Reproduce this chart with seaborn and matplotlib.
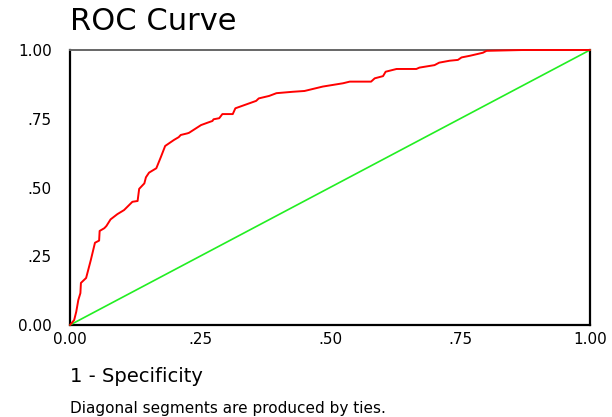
import matplotlib
matplotlib.use("Agg")
import matplotlib.pyplot as plt
import seaborn as sns
import pandas as pd

# ROC curve points
fpr = [0.000, 0.008, 0.012, 0.016, 0.020, 0.021, 0.031, 0.040, 0.048, 0.056,
       0.057, 0.066, 0.070, 0.078, 0.091, 0.104, 0.120, 0.130, 0.133, 0.143,
       0.146, 0.152, 0.166, 0.175, 0.183, 0.200, 0.209, 0.213, 0.226, 0.229,
       0.252, 0.265, 0.274, 0.276, 0.287, 0.293, 0.313, 0.318, 0.358, 0.363,
       0.383, 0.397, 0.428, 0.451, 0.486, 0.525, 0.538, 0.579, 0.586, 0.602,
       0.607, 0.628, 0.666, 0.672, 0.701, 0.710, 0.730, 0.746, 0.753, 0.769,
       0.794, 0.801, 0.871, 1.000]
tpr = [0.000, 0.018, 0.048, 0.091, 0.116, 0.153, 0.171, 0.236, 0.299, 0.307,
       0.342, 0.352, 0.360, 0.384, 0.403, 0.418, 0.448, 0.451, 0.495, 0.515,
       0.537, 0.554, 0.570, 0.612, 0.651, 0.673, 0.683, 0.691, 0.697, 0.699,
       0.727, 0.736, 0.742, 0.748, 0.752, 0.767, 0.767, 0.788, 0.815, 0.824,
       0.833, 0.843, 0.848, 0.851, 0.867, 0.879, 0.885, 0.885, 0.897, 0.905,
       0.921, 0.931, 0.931, 0.936, 0.945, 0.954, 0.961, 0.964, 0.973, 0.979,
       0.990, 0.997, 1.000, 1.000]
ref_x = [0.0, 1.0]
ref_y = [0.0, 1.0]
tick_values = [0.0, 0.25, 0.5, 0.75, 1.0]
tick_labels = ["0.00", ".25", ".50", ".75", "1.00"]

sns.set_style("white")
plt.rcParams["font.family"] = ["DejaVu Sans"]
plt.rcParams["text.color"] = "black"

fig = plt.figure(figsize=(6.12, 4.17), dpi=100)
ax = fig.add_axes([70 / 612, 92 / 417, 520 / 612, 275 / 417])

roc = pd.DataFrame({"fpr": fpr, "tpr": tpr})
ref = pd.DataFrame({"x": ref_x, "y": ref_y})
sns.lineplot(data=ref, x="x", y="y", ax=ax, color="#22ee22", lw=1.2, sort=False)
sns.lineplot(data=roc, x="fpr", y="tpr", ax=ax, color="#ff0000", lw=1.4, sort=False)
for ln in ax.lines:
    ln.set_zorder(3)
    ln.set_clip_on(False)

ax.set_xlim(0, 1)
ax.set_ylim(0, 1)
ax.set_xticks(tick_values)
ax.set_xticklabels(tick_labels)
ax.set_yticks(tick_values)
ax.set_yticklabels(tick_labels)
ax.set_xlabel("")
ax.set_ylabel("")
ax.tick_params(axis="both", direction="out", length=3, width=3, color="black",
               labelsize=11, labelcolor="black")
ax.tick_params(axis="x", pad=2)
ax.tick_params(axis="y", pad=10)

for side in ["left", "bottom", "right"]:
    ax.spines[side].set_color("black")
    ax.spines[side].set_linewidth(1.6)
ax.spines["top"].set_color("#666666")
ax.spines["top"].set_linewidth(1.4)

fig.text(70 / 612, 1 - 22 / 417, "ROC Curve", fontsize=22, ha="left", va="center",
         color="black")
fig.text(70 / 612, 1 - 377 / 417, "1 - Specificity", fontsize=14, ha="left", va="center",
         color="black")
fig.text(70 / 612, 1 - 409 / 417, "Diagonal segments are produced by ties.",
         fontsize=11, ha="left", va="center", color="black")

fig.savefig("out.png", dpi=100)
